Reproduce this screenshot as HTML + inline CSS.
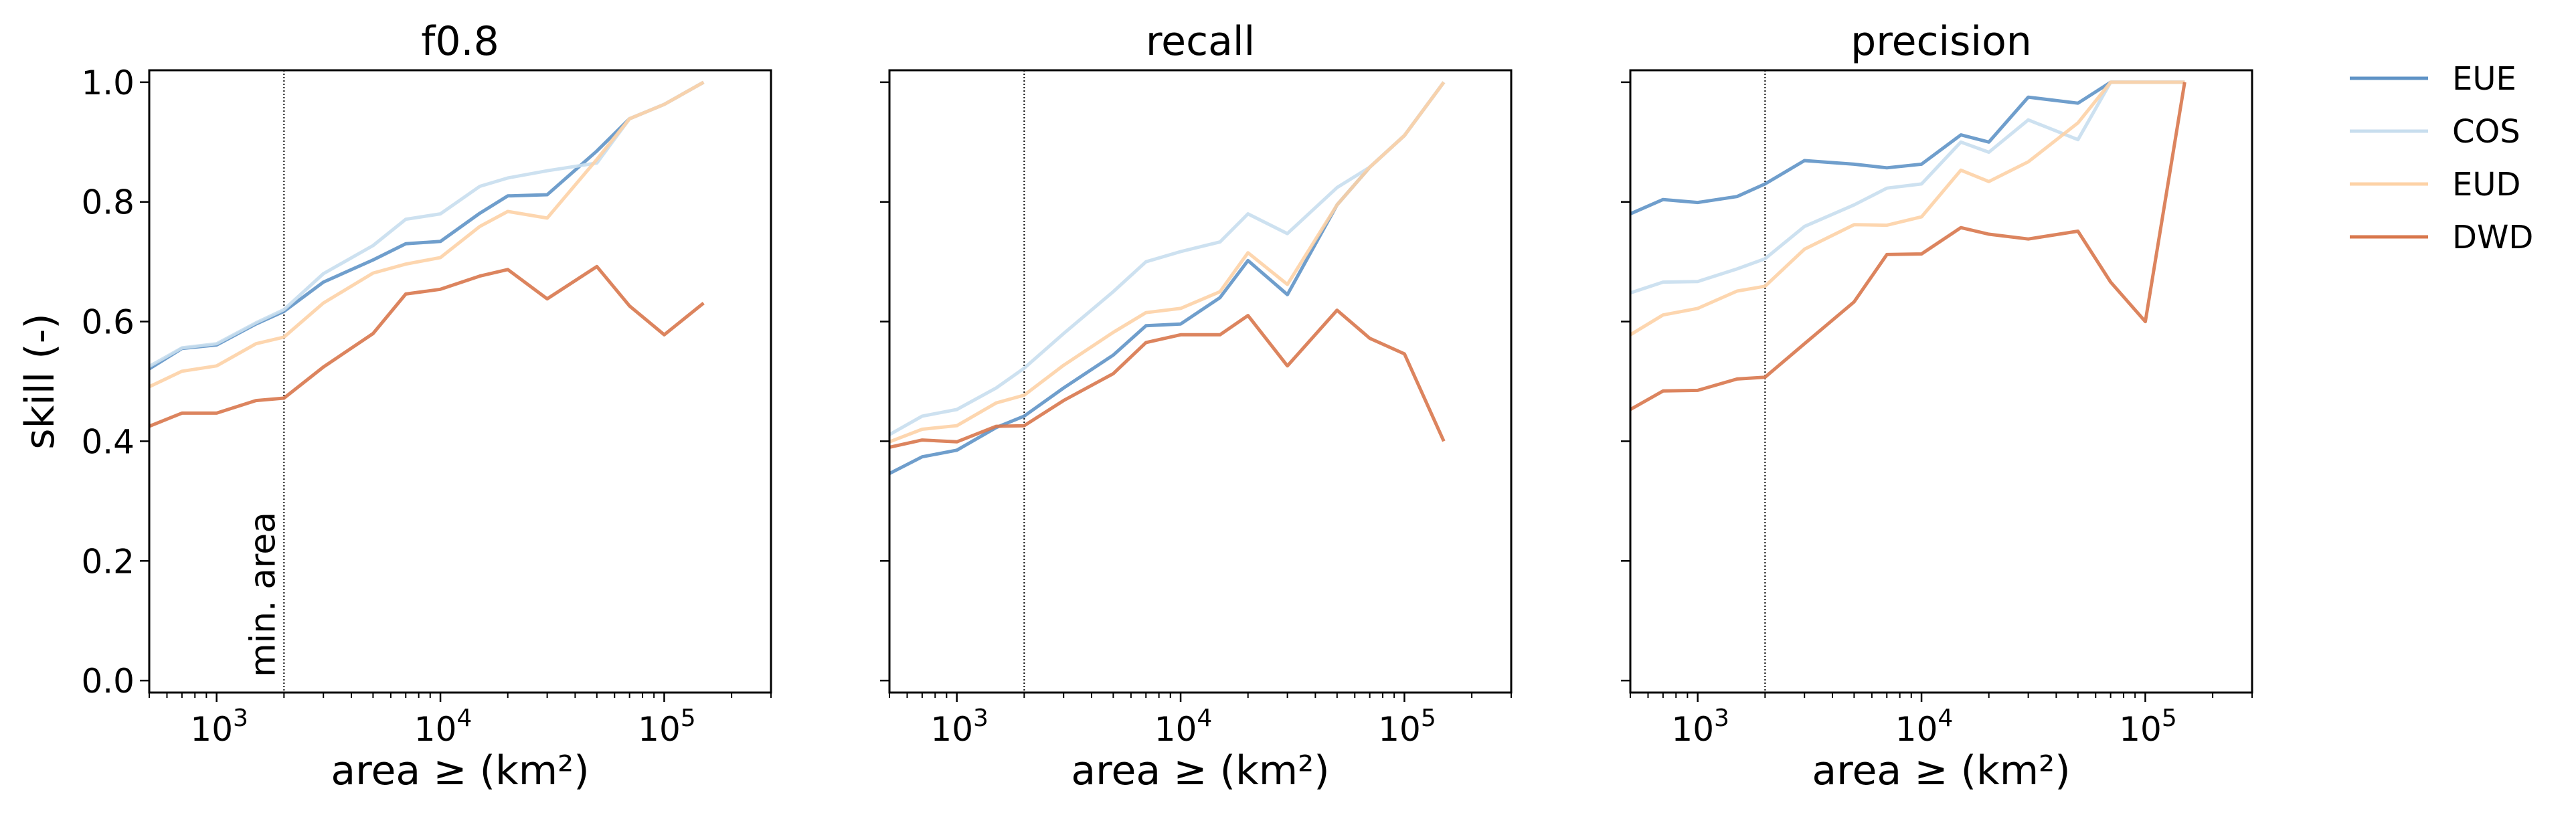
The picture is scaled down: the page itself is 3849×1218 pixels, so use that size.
<!DOCTYPE html>
<html><head><meta charset="utf-8"><style>
html,body{margin:0;padding:0;background:#fff;}
svg{display:block;font-family:"DejaVu Sans","Liberation Sans",sans-serif;}
</style></head><body>
<svg id="fig" width="3849" height="1218" viewBox="0 0 3849 1218" xmlns="http://www.w3.org/2000/svg"></svg>
<script>
const areas = [500,700,1000,1500,2000,3000,5000,7000,10000,15000,20000,30000,50000,70000,100000,150000];
const seriesNames = ["EUE","COS","EUD","DWD"];
const seriesColors = ["#5f93c6","#c8deee","#fdd2a6","#d8774c"];
const panelTitles = ["f0.8","recall","precision"];
const f08_EUE = [0.521,0.555,0.561,0.596,0.617,0.666,0.703,0.730,0.734,0.781,0.810,0.812,0.885,0.939,0.963,1.0];
const f08_COS = [0.525,0.556,0.563,0.598,0.620,0.680,0.727,0.771,0.780,0.826,0.840,0.852,0.865,0.939,0.963,1.0];
const f08_EUD = [0.491,0.517,0.526,0.563,0.574,0.631,0.681,0.696,0.707,0.759,0.784,0.773,0.871,0.939,0.963,1.0];
const f08_DWD = [0.425,0.447,0.447,0.468,0.472,0.524,0.580,0.646,0.654,0.676,0.687,0.638,0.692,0.626,0.578,0.631];
const rec_EUE = [0.346,0.374,0.385,0.423,0.442,0.489,0.544,0.593,0.596,0.640,0.702,0.645,0.795,0.858,0.911,1.0];
const rec_COS = [0.411,0.442,0.453,0.489,0.522,0.580,0.650,0.700,0.717,0.733,0.780,0.747,0.824,0.858,0.911,1.0];
const rec_EUD = [0.399,0.420,0.426,0.464,0.477,0.527,0.582,0.615,0.622,0.650,0.715,0.662,0.795,0.858,0.911,1.0];
const rec_DWD = [0.390,0.402,0.399,0.425,0.426,0.468,0.513,0.565,0.578,0.578,0.610,0.526,0.619,0.572,0.546,0.400];
const pre_EUE = [0.780,0.804,0.799,0.809,0.830,0.869,0.863,0.857,0.863,0.912,0.900,0.975,0.965,1.0,1.0,1.0];
const pre_COS = [0.648,0.666,0.667,0.688,0.705,0.759,0.795,0.823,0.830,0.900,0.883,0.937,0.904,1.0,1.0,1.0];
const pre_EUD = [0.578,0.611,0.622,0.651,0.659,0.721,0.762,0.761,0.775,0.853,0.834,0.867,0.932,1.0,1.0,1.0];
const pre_DWD = [0.453,0.484,0.485,0.504,0.507,0.563,0.633,0.712,0.713,0.757,0.746,0.738,0.751,0.666,0.600,1.0];
const yTicks = [0.0,0.2,0.4,0.6,0.8,1.0];
const yTickLabels = ["0.0","0.2","0.4","0.6","0.8","1.0"];
const xTicks = [1000,10000,100000];
const xExps = ["3","4","5"];
const minArea = 2000;
const xMin = 500, xMax = 300000, yMin = -0.02, yMax = 1.02;

const panelData = [[f08_EUE,f08_COS,f08_EUD,f08_DWD],[rec_EUE,rec_COS,rec_EUD,rec_DWD],[pre_EUE,pre_COS,pre_EUD,pre_DWD]];
const panelLefts = [223,1329,2436];
const W = 929, TOP = 105, BOT = 1035;
const NS = "http://www.w3.org/2000/svg";
const svg = document.getElementById('fig');
function mk(tag, attrs, parent){const e=document.createElementNS(NS,tag);for(const k in attrs)e.setAttribute(k,attrs[k]);(parent||svg).appendChild(e);return e;}

panelData.forEach((series, p) => {
  const L = panelLefts[p];
  const xs = v => L + (Math.log10(v)-Math.log10(xMin))/(Math.log10(xMax)-Math.log10(xMin))*W;
  const ys = v => BOT - (v-yMin)/(yMax-yMin)*(BOT-TOP);
  const g = mk('g',{});
  
  
  const t = mk('text',{x:L+W/2,y:82,'text-anchor':'middle','font-size':60,fill:'#000'},g);
  t.textContent = panelTitles[p];
  
  
  const ml = mk('line',{x1:xs(minArea),x2:xs(minArea),y1:TOP,y2:BOT,stroke:'#000','stroke-width':2,'stroke-dasharray':'2,3'},g);
  
  
  if (p===0){
    const mt = mk('text',{x:0,y:0,'font-size':52,fill:'#000',transform:`translate(${xs(minArea)-14},1012) rotate(-90)`},g);
    mt.textContent = 'min. area';
    
    
  }
  series.forEach((vals, s) => {
    const d = vals.map((v,i)=>(i?'L':'M')+xs(areas[i]).toFixed(1)+','+ys(v).toFixed(1)).join(' ');
    const path = mk('path',{d:d,fill:'none',stroke:seriesColors[s],'stroke-width':5,'stroke-linejoin':'round',opacity:0.9},g);
    
    
  });
  const fr = mk('rect',{x:L,y:TOP,width:W,height:BOT-TOP,fill:'none',stroke:'#000','stroke-width':3},g);
  
  
  yTicks.forEach((v,i)=>{
    mk('line',{x1:L-14,x2:L,y1:ys(v),y2:ys(v),stroke:'#000','stroke-width':2.5},g);
    if(p===0){
      const tl = mk('text',{x:L-22,y:ys(v)+18,'text-anchor':'end','font-size':50,fill:'#000'},g);
      tl.textContent = yTickLabels[i];
      
      
    }
  });
  for(let e=2;e<=5;e++){for(let m=1;m<10;m++){const v=m*Math.pow(10,e);if(v<xMin||v>xMax)continue;const x=xs(v);
    mk('line',{x1:x,x2:x,y1:BOT,y2:BOT+(m===1?14:8),stroke:'#000','stroke-width':m===1?2.5:2},g);}}
  xTicks.forEach((v,i)=>{
    const tl = mk('text',{x:xs(v)+4,y:BOT+72,'text-anchor':'middle','font-size':50,fill:'#000'},g);
    tl.innerHTML = '10<tspan dy="-22" font-size="36">'+xExps[i]+'</tspan>';
    
    
  });
  const xl = mk('text',{x:L+W/2,y:1172,'text-anchor':'middle','font-size':60,fill:'#000'},g);
  xl.textContent = 'area ≥ (km²)';
  
  
});
const yl = mk('text',{x:0,y:0,'text-anchor':'middle','font-size':60,fill:'#000',transform:'translate(80,570) rotate(-90)'});
yl.textContent = 'skill (-)';


const lg = mk('g',{});


seriesNames.forEach((n,i)=>{
  const y = 117 + i*79;
  const ln = mk('line',{x1:3511,x2:3628,y1:y,y2:y,stroke:seriesColors[i],'stroke-width':5},lg);
  
  
  const tx = mk('text',{x:3664,y:y+17,'font-size':48,fill:'#000'},lg);
  tx.textContent = n;
  
  
});
</script>
</body></html>
